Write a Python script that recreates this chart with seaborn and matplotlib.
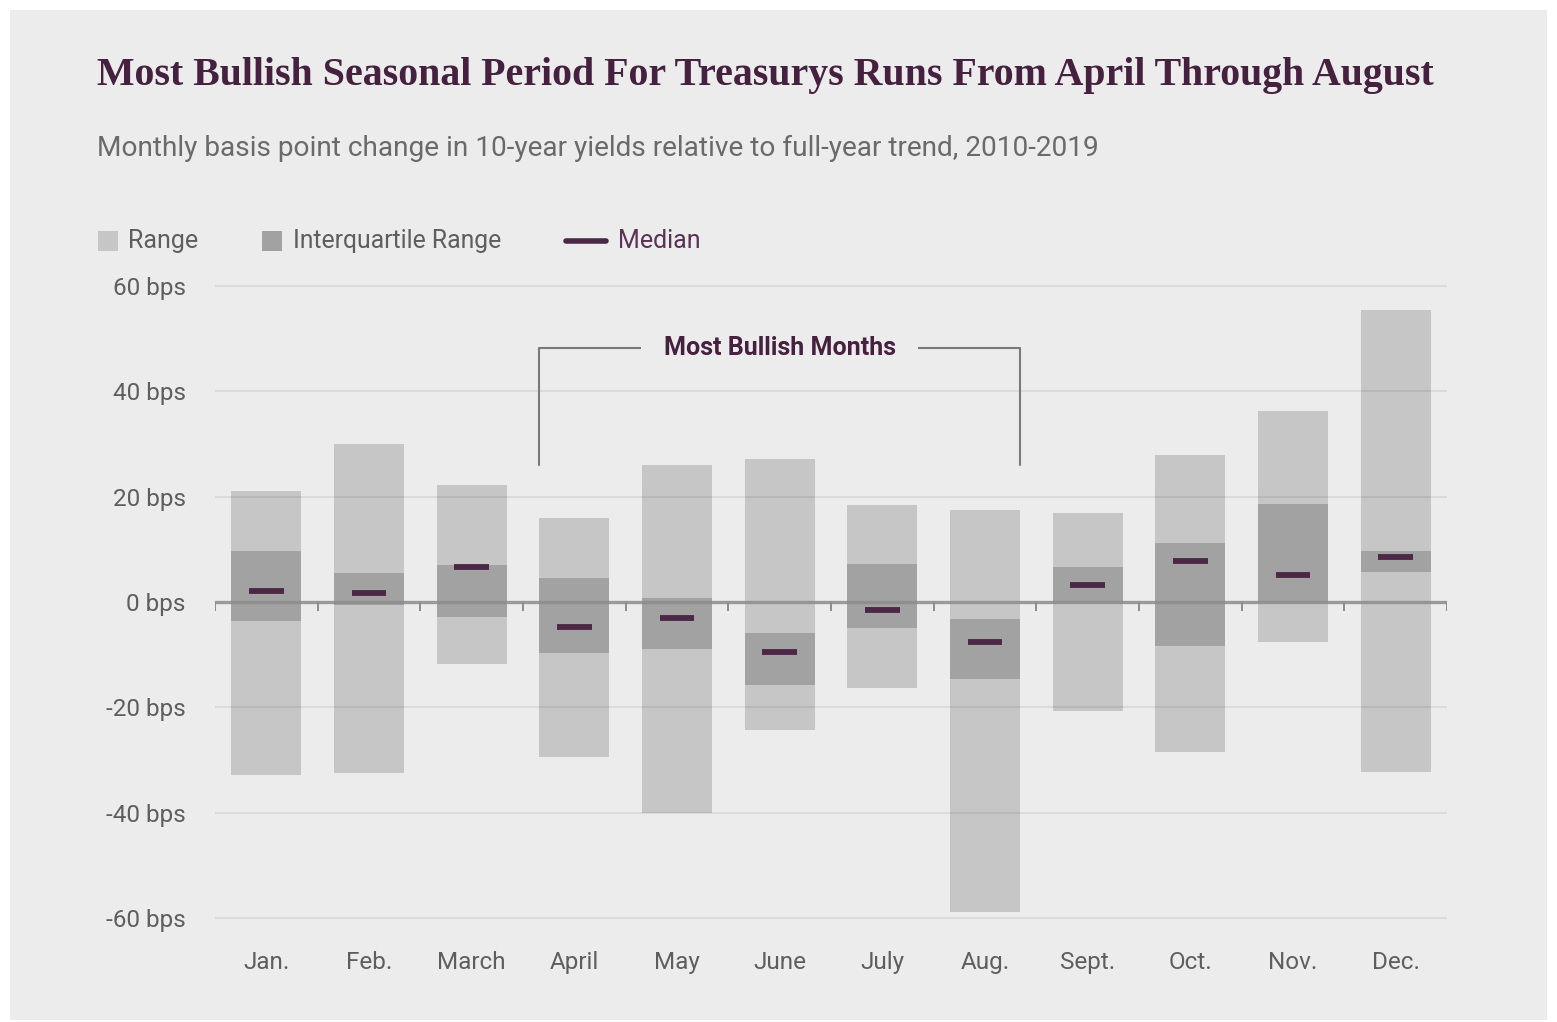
import matplotlib
matplotlib.use("Agg")
import matplotlib.pyplot as plt
import seaborn as sns
import numpy as np
import pandas as pd
from matplotlib.patches import Rectangle
from matplotlib.lines import Line2D

# ---------------- data ----------------
months = ["Jan.", "Feb.", "March", "April", "May", "June",
          "July", "Aug.", "Sept.", "Oct.", "Nov.", "Dec."]
range_high = [21.0, 30.0, 22.3, 16.0, 26.0, 27.2, 18.4, 17.5, 16.9, 28.0, 36.3, 55.5]
range_low = [-32.8, -32.5, -11.8, -29.4, -40.1, -24.3, -16.3, -58.9, -20.7, -28.5, -7.6, -32.3]
iqr_high = [9.7, 5.5, 7.0, 4.5, 0.8, -5.9, 7.2, -3.2, 6.6, 11.2, 18.6, 9.7]
iqr_low = [-3.6, -0.6, -2.8, -9.7, -8.9, -15.8, -4.9, -14.6, -0.2, -8.4, 0.0, 5.7]
medians = [2.1, 1.7, 6.6, -4.7, -3.1, -9.5, -1.5, -7.6, 3.2, 7.8, 5.1, 8.5]
yticks = [60, 40, 20, 0, -20, -40, -60]
ytick_labels = [f"{v} bps" for v in yticks]
title = "Most Bullish Seasonal Period For Treasurys Runs From April Through August"
subtitle = "Monthly basis point change in 10-year yields relative to full-year trend, 2010-2019"
bracket_label = "Most Bullish Months"
bracket_start, bracket_end = "April", "Aug."

# ---------------- style ----------------
sns.set_theme(style="white")
NARROW = ["Liberation Sans Narrow", "Roboto", "DejaVu Sans"]
plt.rcParams["font.family"] = NARROW

BG = "#ececec"
RANGE_C = "#c6c6c6"
IQR_C = "#a2a2a2"
MED_C = "#4a2846"
TITLE_C = "#45203f"
TEXT_C = "#5e5e5e"

W, H = 1557, 1022
fig = plt.figure(figsize=(W / 100, H / 100), dpi=100)
fig.patch.set_facecolor("white")
fig.patches.append(Rectangle((10 / W, 2 / H), 1537 / W, 1010 / H,
                             transform=fig.transFigure, facecolor=BG,
                             edgecolor="none", zorder=-10))

ylo, yhi = -62, 62
px_per = 5.267
ax_top_px = 602 - yhi * px_per
ax_bot_px = 602 - ylo * px_per
ax = fig.add_axes([215 / W, 1 - ax_bot_px / H, (1447 - 215) / W,
                   (ax_bot_px - ax_top_px) / H])
ax.set_facecolor("none")

df = pd.DataFrame({
    "month": months,
    "range_span": np.array(range_high) - np.array(range_low),
    "range_low": range_low,
    "iqr_span": np.array(iqr_high) - np.array(iqr_low),
    "iqr_low": iqr_low,
    "median": medians,
})

sns.barplot(data=df, x="month", y="range_span", bottom=df["range_low"].to_numpy(),
            color=RANGE_C, saturation=1, width=0.68, errorbar=None,
            linewidth=0, ax=ax, zorder=2)
sns.barplot(data=df, x="month", y="iqr_span", bottom=df["iqr_low"].to_numpy(),
            color=IQR_C, saturation=1, width=0.68, errorbar=None,
            linewidth=0, ax=ax, zorder=2)

xpos = np.arange(len(months))
ax.hlines(df["median"], xpos - 0.17, xpos + 0.17, color=MED_C, lw=4.2,
          zorder=6)

# grid lines & zero axis
for v in yticks:
    if v != 0:
        ax.axhline(v, color="black", alpha=0.07, lw=1.5, zorder=3)
ax.axhline(0, color="#8c8c8c", lw=2.4, alpha=0.85, zorder=4)
ax.vlines(np.arange(-0.5, len(months), 1), -1.7, 0, color="#8c8c8c", lw=1.4,
          zorder=4)

ax.set_xlim(-0.5, len(months) - 0.5)
ax.set_ylim(ylo, yhi)
ax.set_yticks(yticks)
ax.set_yticklabels(ytick_labels)
ax.set_xticks(xpos)
ax.set_xticklabels(months)
ax.tick_params(axis="both", length=0, labelsize=17.5, colors=TEXT_C)
ax.tick_params(axis="y", pad=21)
ax.tick_params(axis="x", pad=16)
ax.set_xlabel("")
ax.set_ylabel("")
for s in ax.spines.values():
    s.set_visible(False)

# bracket annotation
i0, i1 = months.index(bracket_start), months.index(bracket_end)
ytop, ybot = 48.2, 26.0
ax.plot([i0 - 0.34, i0 - 0.34, i1 + 0.34, i1 + 0.34], [ybot, ytop, ytop, ybot],
        color="#7a7a7a", lw=1.5, clip_on=False, zorder=5)
ax.text((i0 + i1) / 2, ytop, bracket_label, ha="center", va="center",
        fontsize=18, fontweight="bold", color=TITLE_C, zorder=6,
        bbox=dict(boxstyle="square,pad=0.9", facecolor=BG, edgecolor="none"))

# titles
fig.text(97 / W, 1 - 76 / H, title, ha="left", va="center", fontsize=28.7,
         fontweight="bold", color=TITLE_C,
         family=["Liberation Serif", "DejaVu Serif"])
fig.text(97 / W, 1 - 148 / H, subtitle, ha="left", va="center", fontsize=20.2,
         color="#6a6a6a")

# legend (manual)
ly = 1 - 241 / H
sq = 20
fig.patches.append(Rectangle((98 / W, ly - sq / 2 / H), sq / W, sq / H,
                             transform=fig.transFigure, facecolor=RANGE_C,
                             edgecolor="none"))
fig.text(128 / W, ly, "Range", ha="left", va="center", fontsize=18, color=TEXT_C)
fig.patches.append(Rectangle((262 / W, ly - sq / 2 / H), sq / W, sq / H,
                             transform=fig.transFigure, facecolor=IQR_C,
                             edgecolor="none"))
fig.text(293 / W, ly, "Interquartile Range", ha="left", va="center",
         fontsize=17.8, color=TEXT_C)
fig.lines.append(Line2D([566 / W, 606 / W], [ly, ly], transform=fig.transFigure,
                        color=MED_C, lw=4.0))
fig.text(618 / W, ly, "Median", ha="left", va="center", fontsize=18,
         color="#5a3256")

fig.savefig("out.png", dpi=100, facecolor=fig.get_facecolor())
